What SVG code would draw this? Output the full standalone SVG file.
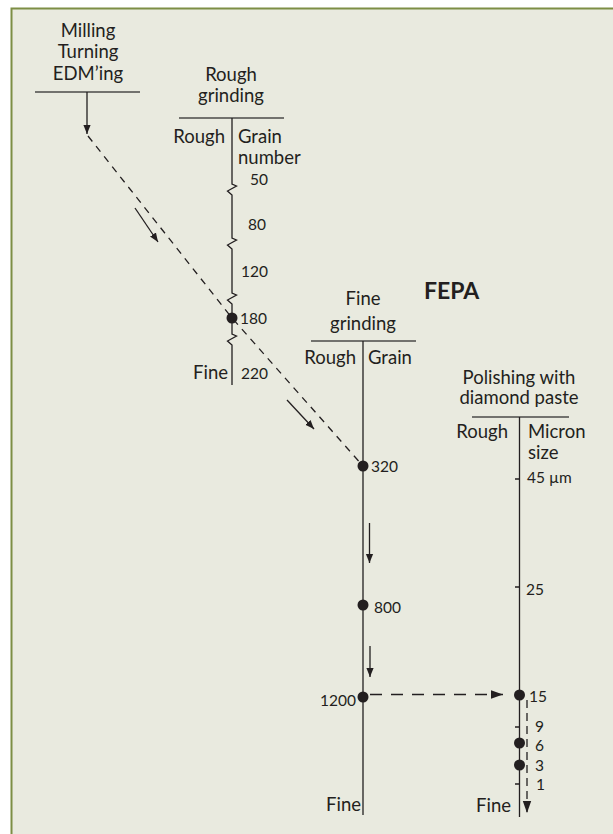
<svg xmlns="http://www.w3.org/2000/svg" width="613" height="834" viewBox="0 0 613 834">
<style>
.t{font-family:Lato,"Liberation Sans",sans-serif;font-size:18.5px;fill:#231f20}
.n{font-size:15.5px}
.m{text-anchor:middle}
.e{text-anchor:end}
.b{font-weight:bold;font-size:23px}
.ln{stroke:#231f20;stroke-width:1.3;fill:none}
.hd{stroke:#4a4a48;stroke-width:1.5;fill:none}
.dot{fill:#231f20}
.dd{stroke-dasharray:7 6}
.dl{stroke-dasharray:12 9}
.ds{stroke-dasharray:8 5}
</style>
<defs>
<marker id="ah" viewBox="0 0 10 10" refX="10" refY="5" markerWidth="9" markerHeight="9" markerUnits="userSpaceOnUse" orient="auto">
<path d="M0,1 L10,5 L0,9z" fill="#231f20"/>
</marker>
<marker id="ahL" viewBox="0 0 10 10" refX="10" refY="5" markerWidth="12" markerHeight="12" markerUnits="userSpaceOnUse" orient="auto">
<path d="M0,1.5 L10,5 L0,8.5z" fill="#231f20"/>
</marker>
</defs>
<rect x="0" y="0" width="613" height="834" fill="#ffffff"/>
<rect x="11.5" y="8.5" width="610" height="830" fill="#e9eadf" stroke="#7d8e45" stroke-width="2"/>

<g id="milling">
<text class="t m" x="88" y="37">Milling</text>
<text class="t m" x="88" y="58">Turning</text>
<text class="t m" x="88" y="80">EDM’ing</text>
<line class="hd" x1="35" y1="92" x2="140" y2="92"/>
</g>

<g id="rough-grinding">
<text class="t m" x="231" y="81">Rough</text>
<text class="t m" x="231" y="102">grinding</text>
<line class="hd" x1="179" y1="118" x2="284" y2="118"/>
<path class="ln" d="M232,118 V184 l4.5,2 l-9,5 l4.5,4 V238 l4.5,2 l-9,5 l4.5,4 V293 l4.5,2 l-9,5 l4.5,4 V334 l4.5,2 l-9,5 l4.5,4 V385"/>
<text class="t e" x="225" y="143">Rough</text>
<text class="t" x="238" y="143">Grain</text>
<text class="t" x="238" y="164">number</text>
<text class="t n" x="250" y="185">50</text>
<text class="t n" x="248" y="230">80</text>
<text class="t n" x="241" y="277">120</text>
<circle class="dot" cx="232" cy="318" r="5.5"/>
<text class="t n" x="240" y="324">180</text>
<text class="t e" x="228" y="379">Fine</text>
<text class="t n" x="241" y="379">220</text>
</g>

<g id="fepa">
<text class="t b" x="424" y="299">FEPA</text>
</g>

<g id="fine-grinding">
<text class="t m" x="363" y="305">Fine</text>
<text class="t m" x="363" y="330">grinding</text>
<line class="hd" x1="311" y1="341" x2="416" y2="341"/>
<line class="ln" x1="363" y1="341" x2="363" y2="815"/>
<text class="t e" x="356" y="364">Rough</text>
<text class="t" x="368" y="364">Grain</text>
<circle class="dot" cx="363" cy="466" r="5.5"/>
<text class="t n" x="371" y="472">320</text>
<circle class="dot" cx="363" cy="605" r="5.5"/>
<text class="t n" x="374" y="613">800</text>
<circle class="dot" cx="363" cy="697" r="5.5"/>
<text class="t n e" x="356" y="706">1200</text>
<text class="t e" x="361" y="811">Fine</text>
</g>

<g id="polishing">
<text class="t m" x="519" y="384">Polishing with</text>
<text class="t m" x="519" y="404">diamond paste</text>
<line class="hd" x1="472" y1="417" x2="569" y2="417"/>
<line class="ln" x1="519.5" y1="417" x2="519.5" y2="817"/>
<text class="t e" x="508" y="438">Rough</text>
<text class="t" x="528" y="438">Micron</text>
<text class="t" x="528" y="459">size</text>
<path class="ln" d="M515,479 H519.5 M515,587 H519.5 M515,727 H519.5 M515,784 H519.5"/>
<text class="t n" x="527" y="483">45 µm</text>
<text class="t n" x="526" y="595">25</text>
<circle class="dot" cx="519.5" cy="695" r="5.5"/>
<text class="t n" x="529" y="702">15</text>
<text class="t n" x="535" y="732">9</text>
<circle class="dot" cx="519.5" cy="743" r="5.5"/>
<text class="t n" x="535" y="751">6</text>
<circle class="dot" cx="519.5" cy="765" r="5.5"/>
<text class="t n" x="535" y="771">3</text>
<text class="t n" x="536" y="790">1</text>
<text class="t e" x="511" y="812">Fine</text>
</g>

<g id="connectors">
<line class="ln" x1="87" y1="92" x2="87" y2="134" marker-end="url(#ah)"/>
<polyline class="ln dd" points="88,136 232,318 363,466"/>
<line class="ln" x1="135" y1="208" x2="158" y2="242" marker-end="url(#ah)"/>
<line class="ln" x1="287" y1="400" x2="314" y2="429" marker-end="url(#ah)"/>
<line class="ln" x1="369.5" y1="523" x2="369.5" y2="563" marker-end="url(#ah)"/>
<line class="ln" x1="370" y1="646" x2="370" y2="677" marker-end="url(#ah)"/>
<line class="ln dl" x1="370" y1="694.5" x2="503" y2="694.5" marker-end="url(#ahL)"/>
<line class="ln ds" x1="527" y1="700" x2="527" y2="813" marker-end="url(#ahL)"/>
</g>
</svg>
